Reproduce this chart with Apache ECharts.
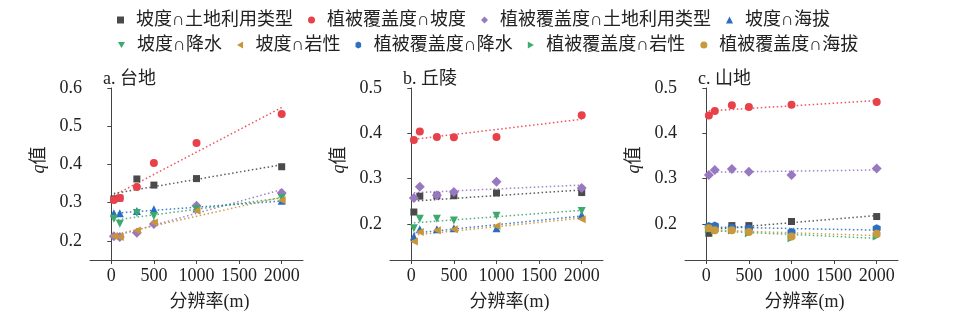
<!DOCTYPE html>
<html>
<head>
<meta charset="utf-8">
<script src="https://cdn.jsdelivr.net/npm/echarts@6/dist/echarts.min.js"></script>
<style>
html,body{margin:0;padding:0;background:#fff;}
#chart{width:958px;height:324px;}
</style>
</head>
<body>
<div id="chart"></div>
<script>
// ---- data ----
const resolution = [30, 100, 300, 500, 1000, 2000];
const xTicks = [0, 500, 1000, 1500, 2000];
const yTicksA = [0.2, 0.3, 0.4, 0.5, 0.6];
const yTicksBC = [0.2, 0.3, 0.4, 0.5];
const panelTitles = ['a. 台地', 'b. 丘陵', 'c. 山地'];

const legendRow1 = ['坡度∩土地利用类型', '植被覆盖度∩坡度', '植被覆盖度∩土地利用类型', '坡度∩海拔'];
const legendRow2 = ['坡度∩降水', '坡度∩岩性', '植被覆盖度∩降水', '植被覆盖度∩岩性', '植被覆盖度∩海拔'];

// a. 台地
const aSlopeLand = [0.310, 0.312, 0.362, 0.346, 0.363, 0.394];
const aVegSlope  = [0.307, 0.312, 0.341, 0.404, 0.456, 0.532];
const aVegLand   = [0.212, 0.210, 0.221, 0.244, 0.292, 0.325];
const aSlopeElev = [0.272, 0.272, 0.278, 0.283, 0.285, 0.305];
const aSlopePrec = [0.258, 0.245, 0.273, 0.265, 0.283, 0.312];
const aSlopeLith = [0.213, 0.210, 0.227, 0.248, 0.279, 0.306];

// b. 丘陵
const bSlopeLand = [0.226, 0.261, 0.262, 0.262, 0.268, 0.269];
const bVegSlope  = [0.385, 0.404, 0.392, 0.391, 0.392, 0.440];
const bVegLand   = [0.257, 0.282, 0.263, 0.270, 0.293, 0.279];
const bSlopeElev = [0.172, 0.188, 0.188, 0.190, 0.190, 0.220];
const bSlopePrec = [0.190, 0.211, 0.211, 0.207, 0.218, 0.228];
const bSlopeLith = [0.161, 0.182, 0.186, 0.188, 0.195, 0.210];

// c. 山地
const cSlopeLand = [0.179, 0.190, 0.196, 0.196, 0.205, 0.216];
const cVegSlope  = [0.439, 0.449, 0.462, 0.458, 0.463, 0.469];
const cVegLand   = [0.308, 0.319, 0.321, 0.315, 0.308, 0.322];
const cVegPrec   = [0.195, 0.196, 0.192, 0.190, 0.182, 0.190];
const cVegLith   = [0.188, 0.185, 0.185, 0.179, 0.168, 0.172];
const cVegElev   = [0.190, 0.186, 0.186, 0.182, 0.172, 0.178];

// ---- styles ----
const FONT = "'Liberation Serif', 'Noto Sans CJK SC', serif";
const styles = {
  '坡度∩土地利用类型':   {color: '#4a4a4a', symbol: 'rect', size: 7},
  '植被覆盖度∩坡度':     {color: '#e8414a', symbol: 'circle', size: 8},
  '植被覆盖度∩土地利用类型': {color: '#9878c0', symbol: 'diamond', size: 10},
  '坡度∩海拔':         {color: '#2b6cc3', symbol: 'triangle', size: 8},
  '坡度∩降水':         {color: '#3caa6c', symbol: 'path://M0,0L10,0L5,8.66Z', size: 8},
  '坡度∩岩性':         {color: '#c8963a', symbol: 'path://M8.66,0L8.66,10L0,5Z', size: 8},
  '植被覆盖度∩降水':     {color: '#2f6fc1', symbol: 'path://M4,0L8,2.3L8,7.7L4,10L0,7.7L0,2.3Z', size: 8},
  '植被覆盖度∩岩性':     {color: '#3aae6c', symbol: 'path://M0,0L8.66,5L0,10Z', size: 8},
  '植被覆盖度∩海拔':     {color: '#c99a3c', symbol: 'circle', size: 8}
};

const panelSeries = [
  [['坡度∩土地利用类型', aSlopeLand], ['植被覆盖度∩坡度', aVegSlope], ['植被覆盖度∩土地利用类型', aVegLand],
   ['坡度∩海拔', aSlopeElev], ['坡度∩降水', aSlopePrec], ['坡度∩岩性', aSlopeLith]],
  [['坡度∩土地利用类型', bSlopeLand], ['植被覆盖度∩坡度', bVegSlope], ['植被覆盖度∩土地利用类型', bVegLand],
   ['坡度∩海拔', bSlopeElev], ['坡度∩降水', bSlopePrec], ['坡度∩岩性', bSlopeLith]],
  [['坡度∩土地利用类型', cSlopeLand], ['植被覆盖度∩坡度', cVegSlope], ['植被覆盖度∩土地利用类型', cVegLand],
   ['植被覆盖度∩降水', cVegPrec], ['植被覆盖度∩岩性', cVegLith], ['植被覆盖度∩海拔', cVegElev]]
];
const yRanges = [[0.15, 0.6, yTicksA], [0.12, 0.5, yTicksBC], [0.12, 0.5, yTicksBC]];
const gridLefts = [90, 390, 685];

// least-squares linear trend, computed from the data
function trend(xs, ys) {
  const n = xs.length;
  const mx = xs.reduce((s, v) => s + v, 0) / n;
  const my = ys.reduce((s, v) => s + v, 0) / n;
  let sxy = 0, sxx = 0;
  for (let i = 0; i < n; i++) { sxy += (xs[i] - mx) * (ys[i] - my); sxx += (xs[i] - mx) ** 2; }
  const b = sxy / sxx, a = my - b * mx;
  const x0 = Math.min(...xs), x1 = Math.max(...xs);
  return [[x0, a + b * x0], [x1, a + b * x1]];
}

const grids = [], xAxes = [], yAxes = [], titles = [], series = [];
for (let p = 0; p < 3; p++) {
  grids.push({left: gridLefts[p], top: 88, width: 213, height: 172});
  titles.push({text: panelTitles[p], left: gridLefts[p] + 13, top: 70, padding: 0,
    textStyle: {fontSize: 18, fontWeight: 'normal', color: '#222', fontFamily: FONT}});
  xAxes.push({
    type: 'value', gridIndex: p, min: -250, max: 2250,
    splitLine: {show: false},
    axisLine: {show: true, lineStyle: {color: '#444', width: 1}},
    axisTick: {show: true, length: 4, customValues: xTicks, lineStyle: {color: '#444'}},
    axisLabel: {customValues: xTicks, fontSize: 18, color: '#222', fontFamily: FONT, margin: 7,
      formatter: v => String(v)},
    name: '分辨率(m)', nameLocation: 'middle', nameGap: 33,
    nameTextStyle: {fontSize: 18, color: '#222', fontFamily: FONT, padding: [0, 0, 0, 26]}
  });
  const [ymin, ymax, yt] = yRanges[p];
  yAxes.push({
    type: 'value', gridIndex: p, min: ymin, max: ymax,
    splitLine: {show: false},
    axisLine: {show: true, lineStyle: {color: '#444', width: 1}},
    axisTick: {show: true, length: 4, customValues: yt, lineStyle: {color: '#444'}},
    axisLabel: {customValues: yt, fontSize: 18, color: '#222', fontFamily: FONT, margin: 8,
      formatter: v => String(v)},
    name: '{i|q}值', nameLocation: 'middle', nameRotate: 90, nameGap: 42,
    nameTextStyle: {fontSize: 18, color: '#222', fontFamily: FONT, padding: [0, 0, 0, 28],
      rich: {i: {fontStyle: 'italic', fontSize: 18, fontFamily: FONT, color: '#222'}}}
  });
  panelSeries[p].forEach(([name, vals]) => {
    const st = styles[name];
    series.push({
      type: 'line', name: name + '_trend', xAxisIndex: p, yAxisIndex: p,
      data: trend(resolution, vals), symbol: 'none', silent: true, z: 1,
      lineStyle: {color: st.color, width: 1.5, type: [1.5, 2.5], opacity: 0.9}
    });
  });
  panelSeries[p].forEach(([name, vals]) => {
    const st = styles[name];
    series.push({
      type: 'scatter', name: name, xAxisIndex: p, yAxisIndex: p,
      data: resolution.map((x, i) => [x, vals[i]]),
      symbol: st.symbol, symbolSize: st.size, z: 3,
      itemStyle: {color: st.color, opacity: 1}
    });
  });
}

function legendItems(names) {
  return names.map(n => ({name: n, icon: styles[n].symbol, itemStyle: {color: styles[n].color}}));
}
const legendCommon = {
  orient: 'horizontal', itemWidth: 7, itemHeight: 7, itemGap: 15, padding: 0,
  symbolKeepAspect: true,
  textStyle: {fontSize: 18, color: '#222', fontFamily: FONT, padding: [0, 0, 0, 7]}, selectedMode: false
};

const chart = echarts.init(document.getElementById('chart'), null, {renderer: 'canvas'});
chart.setOption({
  backgroundColor: '#fff',
  animation: false,
  title: titles,
  legend: [
    Object.assign({}, legendCommon, {left: 117, top: 11, data: legendItems(legendRow1)}),
    Object.assign({}, legendCommon, {left: 118, top: 36, data: legendItems(legendRow2)})
  ],
  grid: grids, xAxis: xAxes, yAxis: yAxes, series: series
});
</script>
</body>
</html>
